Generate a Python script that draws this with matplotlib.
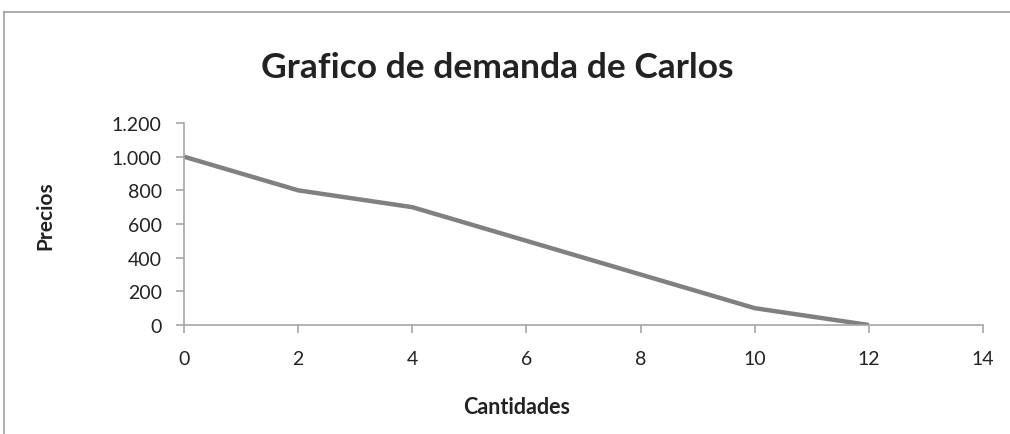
import matplotlib
matplotlib.use("Agg")
import matplotlib.pyplot as plt
from matplotlib.lines import Line2D
from matplotlib.ticker import FuncFormatter

cantidades = [0, 2, 4, 6, 8, 10, 12]
precios = [1000, 800, 700, 500, 300, 100, 0]
x_ticks = [0, 2, 4, 6, 8, 10, 12, 14]
y_ticks = [0, 200, 400, 600, 800, 1000, 1200]

plt.rcParams['font.family'] = ['Lato', 'DejaVu Sans']

fig = plt.figure(figsize=(10.1, 4.35), dpi=100)
ax = fig.add_axes([184/1010, 1-326/435, (983-184)/1010, (326-124)/435])

ax.plot(cantidades, precios, color='#808080', lw=3.2, solid_capstyle='butt')
ax.set_xlim(0, 14)
ax.set_ylim(0, 1200)
ax.set_xticks(x_ticks)
ax.set_yticks(y_ticks)
ax.yaxis.set_major_formatter(FuncFormatter(lambda v, p: f"{int(v):,}".replace(",", ".")))
for s in ['top', 'right']:
    ax.spines[s].set_visible(False)
for s in ['left', 'bottom']:
    ax.spines[s].set_color('#a6a6a6')
    ax.spines[s].set_linewidth(1.2)
ax.tick_params(axis='both', direction='out', length=6, width=1.2, color='#a6a6a6',
               labelsize=14, labelcolor='#222222')
ax.tick_params(axis='x', pad=12)
ax.tick_params(axis='y', pad=10)

fig.text(497/1010, 1-68/435, 'Grafico de demanda de Carlos', ha='center', va='center',
         fontsize=25.5, fontweight='bold', color='#222222')
fig.text(45/1010, 1-216/435, 'Precios', ha='center', va='center', rotation=90,
         fontsize=15, fontweight='bold', color='#222222')
fig.text(517/1010, 1-408/435, 'Cantidades', ha='center', va='center',
         fontsize=15.5, fontweight='bold', color='#222222')

# outer chart border (partially visible)
fig.add_artist(Line2D([4/1010, 1.0], [1-13/435, 1-13/435], color='#a0a0a0', lw=1.2,
                      transform=fig.transFigure))
fig.add_artist(Line2D([4/1010, 4/1010], [0, 1-13/435], color='#a0a0a0', lw=1.2,
                      transform=fig.transFigure))

fig.savefig('out.png', dpi=100)
